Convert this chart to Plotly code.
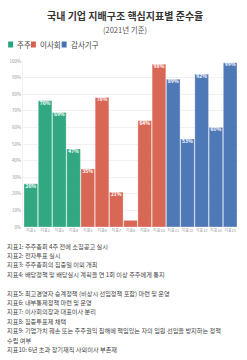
import plotly.graph_objects as go

categories = ["지표1", "지표2", "지표3", "지표4", "지표5", "지표6", "지표7", "지표8",
              "지표9", "지표10", "지표11", "지표12", "지표13", "지표14", "지표15"]
values = [26, 76, 69, 47, 35, 78, 21, 4, 64, 98, 89, 53, 92, 60, 99]
groups = ["주주"] * 4 + ["이사회"] * 6 + ["감사기구"] * 5
group_names = ["주주", "이사회", "감사기구"]
group_colors = {"주주": "#27a47c", "이사회": "#d75f4c", "감사기구": "#4671b3"}

title = "국내 기업 지배구조 핵심지표별 준수율"
subtitle = "(2021년 기준)"
notes = [
    "지표1: 주주총회 4주 전에 소집공고 실시",
    "지표2: 전자투표 실시",
    "지표3: 주주총회의 집중일 이외 개최",
    "지표4: 배당정책 및 배당실시 계획을 연 1회 이상 주주에게 통지",
    "",
    "지표5: 최고경영자 승계정책 (비상시 선임정책 포함) 마련 및 운영",
    "지표6: 내부통제정책 마련 및 운영",
    "지표7: 이사회의장과 대표이사 분리",
    "지표8: 집중투표제 채택",
    "지표9: 기업가치 훼손 또는 주주권익 침해에 책임있는 자의 임원 선임을 방지하는 정책",
    "수립 여부",
    "지표10: 6년 초과 장기재직 사외이사 부존재",
]

FONT = "Noto Sans CJK KR"
W, H = 247, 360
ML, MR, MT, MB = 21, 9, 61, 133
PH = H - MT - MB


def py(pixel_y):
    return (H - MB - pixel_y) / PH


def px(pixel_x):
    return (pixel_x - ML) / (W - ML - MR)


bar_colors = [group_colors[g] for g in groups]

fig = go.Figure()
fig.add_trace(go.Bar(
    x=categories, y=values,
    marker=dict(color=bar_colors, opacity=0.95,
                line=dict(color="rgba(255,255,255,0.5)", width=0.6)),
    showlegend=False, hoverinfo="x+y",
))

# value labels just under each bar top
fig.add_trace(go.Scatter(
    x=categories, y=values, mode="text",
    text=[f"<b>{v}%</b>" if v >= 10 else "" for v in values],
    textposition="bottom center",
    textfont=dict(color="white", size=5, family=FONT),
    showlegend=False, hoverinfo="skip",
))

fig.update_layout(
    width=W, height=H,
    margin=dict(l=ML, r=MR, t=MT, b=MB),
    paper_bgcolor="white", plot_bgcolor="white",
    bargap=0.04,
    font=dict(family=FONT, color="#333"),
    xaxis=dict(categoryorder="array", categoryarray=categories,
               range=[-0.55, len(categories) - 0.45],
               tickfont=dict(size=4, color="#999", family=FONT), tickangle=0,
               showgrid=False, ticks="", showline=False),
    yaxis=dict(range=[0, 100], dtick=10, ticksuffix="%",
               tickfont=dict(size=4.5, color="#999", family=FONT),
               gridcolor="#f1f1f1", gridwidth=1, zeroline=False,
               showline=True, linecolor="#f1f1f1", ticks=""),
)

annotations = [
    dict(text=f"<b>{title}</b>", x=px(123.5), xref="paper", y=py(15), yref="paper",
         xanchor="center", yanchor="middle", showarrow=False,
         font=dict(size=10, color="#333", family=FONT)),
    dict(text=subtitle, x=px(123.5), xref="paper", y=py(29), yref="paper",
         xanchor="center", yanchor="middle", showarrow=False,
         font=dict(size=7.5, color="#555", family=FONT)),
]

# manual legend
legend_x = [6, 29, 60]
shapes = []
for g, lx in zip(group_names, legend_x):
    shapes.append(dict(type="rect", xref="paper", yref="paper",
                       x0=px(lx), x1=px(lx + 5), y0=py(47.5), y1=py(41.5),
                       fillcolor=group_colors[g], line=dict(width=0)))
    annotations.append(dict(text=g, x=px(lx + 7), xref="paper", y=py(44.5), yref="paper",
                            xanchor="left", yanchor="middle", showarrow=False,
                            font=dict(size=7.5, color="#444", family=FONT)))

y0 = 246
for i, line in enumerate(notes):
    if line:
        annotations.append(dict(text=line, x=px(3), xref="paper", y=py(y0 + i * 9.4),
                                yref="paper", xanchor="left", yanchor="middle",
                                showarrow=False,
                                font=dict(size=6.2, color="#444", family=FONT)))

fig.update_layout(annotations=annotations, shapes=shapes)
fig.write_html("out.html")
